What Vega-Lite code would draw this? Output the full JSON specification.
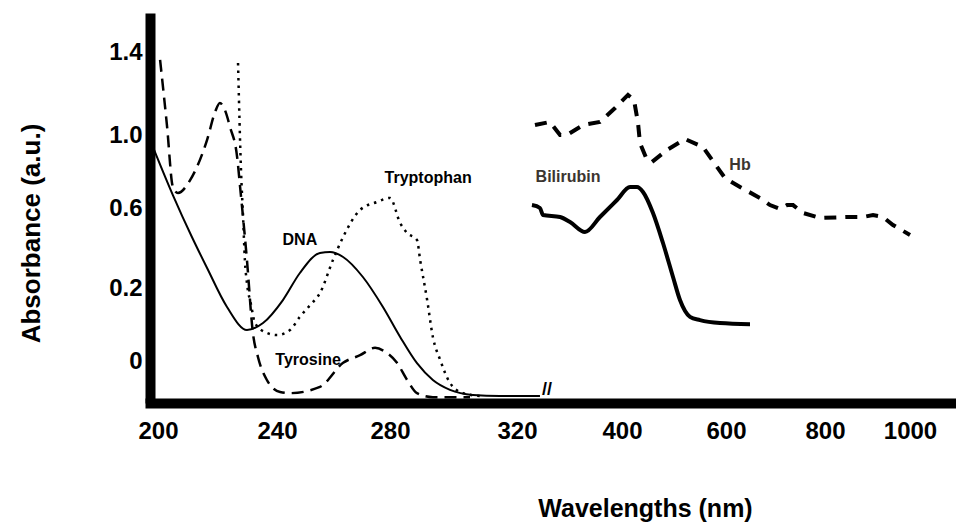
{
  "$schema": "https://vega.github.io/schema/vega-lite/v6.json",
  "width": 806,
  "height": 390,
  "autosize": {"type": "none"},
  "padding": {"left": 150, "top": 13, "right": 0, "bottom": 125},
  "background": "white",
  "config": {"view": {"stroke": null}, "font": "Liberation Sans"},
  "datasets": {
    "curves": [
      {"s": "DNA", "wl": 198.3, "abs": 0.934},
      {"s": "DNA", "wl": 205.0, "abs": 0.671},
      {"s": "DNA", "wl": 211.4, "abs": 0.455},
      {"s": "DNA", "wl": 216.5, "abs": 0.3},
      {"s": "DNA", "wl": 223.2, "abs": 0.148},
      {"s": "DNA", "wl": 229.9, "abs": 0.085},
      {"s": "DNA", "wl": 235.3, "abs": 0.104},
      {"s": "DNA", "wl": 242.1, "abs": 0.167},
      {"s": "DNA", "wl": 248.1, "abs": 0.275},
      {"s": "DNA", "wl": 255.2, "abs": 0.375},
      {"s": "DNA", "wl": 258.8, "abs": 0.38},
      {"s": "DNA", "wl": 263.4, "abs": 0.355},
      {"s": "DNA", "wl": 270.4, "abs": 0.255},
      {"s": "DNA", "wl": 277.5, "abs": 0.148},
      {"s": "DNA", "wl": 283.2, "abs": 0.066},
      {"s": "DNA", "wl": 288.5, "abs": -0.006},
      {"s": "DNA", "wl": 293.5, "abs": -0.052},
      {"s": "DNA", "wl": 298.9, "abs": -0.079},
      {"s": "DNA", "wl": 306.1, "abs": -0.093},
      {"s": "DNA", "wl": 314.6, "abs": -0.096},
      {"s": "DNA", "wl": 337.5, "abs": -0.096},
      {"s": "Tyrosine", "wl": 200.7, "abs": 1.362},
      {"s": "Tyrosine", "wl": 203.0, "abs": 1.048},
      {"s": "Tyrosine", "wl": 205.0, "abs": 0.715},
      {"s": "Tyrosine", "wl": 206.7, "abs": 0.682},
      {"s": "Tyrosine", "wl": 210.8, "abs": 0.753},
      {"s": "Tyrosine", "wl": 216.5, "abs": 0.973},
      {"s": "Tyrosine", "wl": 219.2, "abs": 1.111},
      {"s": "Tyrosine", "wl": 220.8, "abs": 1.154},
      {"s": "Tyrosine", "wl": 222.5, "abs": 1.12},
      {"s": "Tyrosine", "wl": 224.2, "abs": 1.039},
      {"s": "Tyrosine", "wl": 226.6, "abs": 0.879},
      {"s": "Tyrosine", "wl": 227.6, "abs": 0.715},
      {"s": "Tyrosine", "wl": 229.9, "abs": 0.34},
      {"s": "Tyrosine", "wl": 231.9, "abs": 0.077},
      {"s": "Tyrosine", "wl": 233.6, "abs": 0.011},
      {"s": "Tyrosine", "wl": 236.6, "abs": -0.052},
      {"s": "Tyrosine", "wl": 241.1, "abs": -0.085},
      {"s": "Tyrosine", "wl": 244.7, "abs": -0.088},
      {"s": "Tyrosine", "wl": 255.2, "abs": -0.071},
      {"s": "Tyrosine", "wl": 263.4, "abs": -0.005},
      {"s": "Tyrosine", "wl": 269.4, "abs": 0.016},
      {"s": "Tyrosine", "wl": 274.7, "abs": 0.036},
      {"s": "Tyrosine", "wl": 278.9, "abs": 0.022},
      {"s": "Tyrosine", "wl": 282.2, "abs": -0.005},
      {"s": "Tyrosine", "wl": 285.4, "abs": -0.052},
      {"s": "Tyrosine", "wl": 288.5, "abs": -0.088},
      {"s": "Tyrosine", "wl": 293.5, "abs": -0.099},
      {"s": "Tyrosine", "wl": 305.2, "abs": -0.099},
      {"s": "Tryptophan", "wl": 226.9, "abs": 1.347},
      {"s": "Tryptophan", "wl": 227.9, "abs": 0.808},
      {"s": "Tryptophan", "wl": 228.6, "abs": 0.555},
      {"s": "Tryptophan", "wl": 229.2, "abs": 0.34},
      {"s": "Tryptophan", "wl": 229.9, "abs": 0.225},
      {"s": "Tryptophan", "wl": 231.3, "abs": 0.153},
      {"s": "Tryptophan", "wl": 232.6, "abs": 0.104},
      {"s": "Tryptophan", "wl": 236.6, "abs": 0.077},
      {"s": "Tryptophan", "wl": 240.0, "abs": 0.071},
      {"s": "Tryptophan", "wl": 244.6, "abs": 0.085},
      {"s": "Tryptophan", "wl": 248.1, "abs": 0.121},
      {"s": "Tryptophan", "wl": 251.7, "abs": 0.153},
      {"s": "Tryptophan", "wl": 255.2, "abs": 0.186},
      {"s": "Tryptophan", "wl": 259.8, "abs": 0.34},
      {"s": "Tryptophan", "wl": 263.4, "abs": 0.455},
      {"s": "Tryptophan", "wl": 269.4, "abs": 0.59},
      {"s": "Tryptophan", "wl": 275.4, "abs": 0.633},
      {"s": "Tryptophan", "wl": 280.0, "abs": 0.655},
      {"s": "Tryptophan", "wl": 283.2, "abs": 0.525},
      {"s": "Tryptophan", "wl": 285.4, "abs": 0.475},
      {"s": "Tryptophan", "wl": 288.5, "abs": 0.44},
      {"s": "Tryptophan", "wl": 289.5, "abs": 0.34},
      {"s": "Tryptophan", "wl": 291.7, "abs": 0.167},
      {"s": "Tryptophan", "wl": 293.5, "abs": 0.066},
      {"s": "Tryptophan", "wl": 295.8, "abs": 0.003},
      {"s": "Tryptophan", "wl": 298.9, "abs": -0.06},
      {"s": "Tryptophan", "wl": 303.0, "abs": -0.088},
      {"s": "Tryptophan", "wl": 308.4, "abs": -0.096},
      {"s": "Bilirubin", "wl": 331.4, "abs": 0.616},
      {"s": "Bilirubin", "wl": 337.5, "abs": 0.6},
      {"s": "Bilirubin", "wl": 339.8, "abs": 0.565},
      {"s": "Bilirubin", "wl": 352.8, "abs": 0.555},
      {"s": "Bilirubin", "wl": 360.4, "abs": 0.53},
      {"s": "Bilirubin", "wl": 371.8, "abs": 0.48},
      {"s": "Bilirubin", "wl": 383.2, "abs": 0.555},
      {"s": "Bilirubin", "wl": 396.2, "abs": 0.644},
      {"s": "Bilirubin", "wl": 415.4, "abs": 0.715},
      {"s": "Bilirubin", "wl": 428.8, "abs": 0.715},
      {"s": "Bilirubin", "wl": 440.4, "abs": 0.688},
      {"s": "Bilirubin", "wl": 459.6, "abs": 0.575},
      {"s": "Bilirubin", "wl": 478.8, "abs": 0.425},
      {"s": "Bilirubin", "wl": 498.1, "abs": 0.255},
      {"s": "Bilirubin", "wl": 511.5, "abs": 0.167},
      {"s": "Bilirubin", "wl": 530.8, "abs": 0.121},
      {"s": "Bilirubin", "wl": 550.0, "abs": 0.112},
      {"s": "Bilirubin", "wl": 588.5, "abs": 0.104},
      {"s": "Bilirubin", "wl": 648.5, "abs": 0.101},
      {"s": "Hb", "wl": 333.7, "abs": 1.048},
      {"s": "Hb", "wl": 345.1, "abs": 1.063},
      {"s": "Hb", "wl": 352.8, "abs": 1.0},
      {"s": "Hb", "wl": 358.1, "abs": 1.0},
      {"s": "Hb", "wl": 370.3, "abs": 1.048},
      {"s": "Hb", "wl": 383.2, "abs": 1.063},
      {"s": "Hb", "wl": 394.7, "abs": 1.13},
      {"s": "Hb", "wl": 411.5, "abs": 1.193},
      {"s": "Hb", "wl": 423.1, "abs": 1.169},
      {"s": "Hb", "wl": 430.8, "abs": 1.058},
      {"s": "Hb", "wl": 434.6, "abs": 0.956},
      {"s": "Hb", "wl": 448.1, "abs": 0.863},
      {"s": "Hb", "wl": 457.7, "abs": 0.852},
      {"s": "Hb", "wl": 486.5, "abs": 0.918},
      {"s": "Hb", "wl": 521.1, "abs": 0.978},
      {"s": "Hb", "wl": 555.7, "abs": 0.934},
      {"s": "Hb", "wl": 582.7, "abs": 0.825},
      {"s": "Hb", "wl": 598.1, "abs": 0.764},
      {"s": "Hb", "wl": 628.3, "abs": 0.715},
      {"s": "Hb", "wl": 668.7, "abs": 0.655},
      {"s": "Hb", "wl": 688.9, "abs": 0.616},
      {"s": "Hb", "wl": 709.1, "abs": 0.595},
      {"s": "Hb", "wl": 723.2, "abs": 0.616},
      {"s": "Hb", "wl": 735.4, "abs": 0.616},
      {"s": "Hb", "wl": 755.6, "abs": 0.575},
      {"s": "Hb", "wl": 789.9, "abs": 0.55},
      {"s": "Hb", "wl": 851.8, "abs": 0.555},
      {"s": "Hb", "wl": 889.5, "abs": 0.555},
      {"s": "Hb", "wl": 913.0, "abs": 0.565},
      {"s": "Hb", "wl": 936.5, "abs": 0.555},
      {"s": "Hb", "wl": 960.0, "abs": 0.515},
      {"s": "Hb", "wl": 1000.0, "abs": 0.465}
    ],
    "labels": [
      {"t": "DNA", "wl": 248.1, "abs": 0.44, "c": "black"},
      {"t": "Tryptophan", "wl": 292.0, "abs": 0.764, "c": "black"},
      {"t": "Tyrosine", "wl": 251.0, "abs": 0.003, "c": "black"},
      {"t": "Bilirubin", "wl": 358.9, "abs": 0.77, "c": "#3b3530"},
      {"t": "Hb", "wl": 628.3, "abs": 0.836, "c": "#3b3530"}
    ],
    "brk": [
      {"t": "//", "wl": 342.9, "abs": -0.079}
    ]
  },
  "encoding": {
    "x": {
      "field": "wl",
      "type": "quantitative",
      "scale": {
        "domain": [197.3, 200, 240, 280, 320, 400, 600, 800, 1000, 1108],
        "range": [0, 8, 127, 240, 367, 472, 576, 675, 760, 806],
        "nice": false,
        "zero": false
      },
      "axis": {
        "values": [200, 240, 280, 320, 400, 600, 800, 1000],
        "labelExpr": "format(datum.value, 'd')",
        "grid": false,
        "domainWidth": 10,
        "domainColor": "black",
        "domainCap": "square",
        "ticks": false,
        "tickSize": 0,
        "labelPadding": 16,
        "labelFont": "Liberation Sans",
        "labelFontWeight": "bold",
        "labelFontSize": 24,
        "labelColor": "black",
        "labelOverlap": false,
        "labelFlush": false,
        "title": "Wavelengths (nm)",
        "titleFont": "Liberation Sans",
        "titleFontSize": 25,
        "titleFontWeight": "bold",
        "titleColor": "black",
        "titleX": 495,
        "titleY": 113,
        "titleAlign": "center",
        "titleBaseline": "alphabetic"
      }
    },
    "y": {
      "field": "abs",
      "type": "quantitative",
      "scale": {
        "domain": [-0.115, 0, 0.2, 0.6, 1.0, 1.4, 1.588],
        "range": [390, 348, 275, 195, 122, 39, 0],
        "nice": false,
        "zero": false
      },
      "axis": {
        "values": [0, 0.2, 0.6, 1.0, 1.4],
        "labelExpr": "datum.value === 0 ? '0' : format(datum.value, '.1f')",
        "grid": false,
        "domainWidth": 10,
        "domainColor": "black",
        "domainCap": "butt",
        "ticks": false,
        "tickSize": 0,
        "labelPadding": 8,
        "labelFont": "Liberation Sans",
        "labelFontWeight": "bold",
        "labelFontSize": 24,
        "labelColor": "black",
        "labelOverlap": false,
        "labelFlush": false,
        "title": "Absorbance (a.u.)",
        "titleFont": "Liberation Sans",
        "titleFontSize": 26,
        "titleFontWeight": "bold",
        "titleColor": "black",
        "titleX": -119,
        "titleY": 220,
        "titleAlign": "center",
        "titleBaseline": "middle"
      }
    }
  },
  "layer": [
    {
      "data": {"name": "curves"},
      "transform": [{"filter": "datum.s === 'DNA'"}],
      "mark": {"type": "line", "color": "black", "strokeWidth": 2, "interpolate": "monotone"}
    },
    {
      "data": {"name": "curves"},
      "transform": [{"filter": "datum.s === 'Tyrosine'"}],
      "mark": {"type": "line", "color": "black", "strokeWidth": 2.5, "strokeDash": [12, 7], "interpolate": "monotone"}
    },
    {
      "data": {"name": "curves"},
      "transform": [{"filter": "datum.s === 'Tryptophan'"}],
      "mark": {"type": "line", "color": "black", "strokeWidth": 2.5, "strokeDash": [2.5, 5], "interpolate": "monotone"}
    },
    {
      "data": {"name": "curves"},
      "transform": [{"filter": "datum.s === 'Bilirubin'"}],
      "mark": {"type": "line", "color": "black", "strokeWidth": 4, "interpolate": "monotone"}
    },
    {
      "data": {"name": "curves"},
      "transform": [{"filter": "datum.s === 'Hb'"}],
      "mark": {"type": "line", "color": "black", "strokeWidth": 4, "strokeDash": [12, 9]}
    },
    {
      "data": {"name": "labels"},
      "mark": {"type": "text", "font": "Liberation Sans", "fontWeight": "bold", "fontSize": 16, "align": "center", "baseline": "middle"},
      "encoding": {
        "text": {"field": "t", "type": "nominal"},
        "color": {"field": "c", "type": "nominal", "scale": null}
      }
    },
    {
      "data": {"name": "brk"},
      "mark": {"type": "text", "font": "Liberation Sans", "fontWeight": "bold", "fontSize": 18, "align": "center", "baseline": "middle", "color": "black"},
      "encoding": {
        "text": {"field": "t", "type": "nominal"}
      }
    }
  ]
}
